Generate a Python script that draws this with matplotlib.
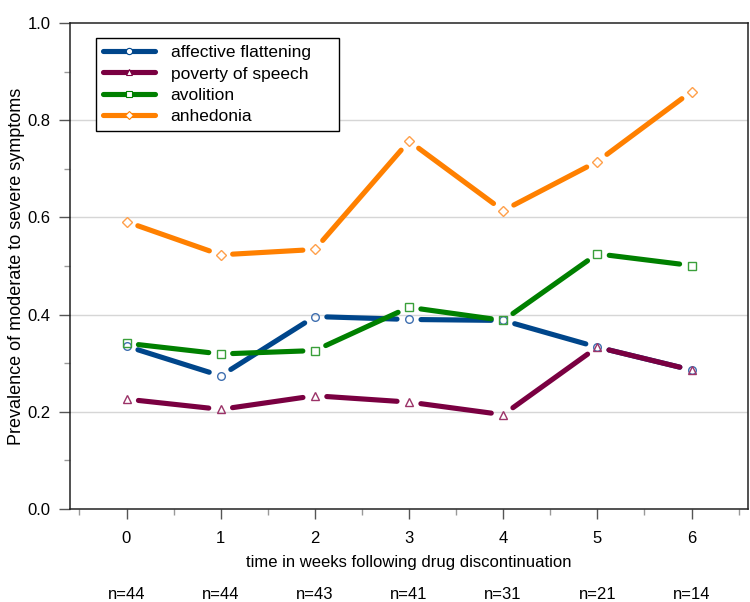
import numpy as np
import matplotlib.pyplot as plt
from matplotlib.lines import Line2D
from matplotlib.ticker import MultipleLocator
import matplotlib.transforms as mtransforms

plt.rcParams['font.family'] = ['Liberation Sans', 'DejaVu Sans']

weeks = [0, 1, 2, 3, 4, 5, 6]
n_counts = ['n=44', 'n=44', 'n=43', 'n=41', 'n=31', 'n=21', 'n=14']

affective = [0.335, 0.274, 0.396, 0.390, 0.388, 0.333, 0.286]
poverty = [0.226, 0.205, 0.233, 0.220, 0.194, 0.333, 0.286]
avolition = [0.341, 0.319, 0.326, 0.415, 0.388, 0.525, 0.501]
anhedonia = [0.591, 0.523, 0.534, 0.757, 0.614, 0.715, 0.859]

labels = ['affective flattening', 'poverty of speech', 'avolition', 'anhedonia']
series = [affective, poverty, avolition, anhedonia]
line_colors = ['#00468b', '#7a0041', '#008000', '#ff8000']
marker_colors = ['#3f6fb0', '#9b3368', '#3a9f3a', '#ffa04a']
markers = ['o', '^', 's', 'D']
marker_sizes = [5.5, 5.5, 6, 5]

fig = plt.figure(figsize=(7.5, 6.02), dpi=100)
ax = fig.add_axes([70 / 750, 1 - 509 / 602, 678 / 750, 486 / 602])
ax.set_xlim(-0.6, 6.6)
ax.set_ylim(0, 1)

# gridlines at major y ticks
for g in [0.2, 0.4, 0.6, 0.8]:
    ax.axhline(g, color='#d6d6d6', lw=1, zorder=0)

# lines with small gaps around each marker
gap = 12
for ys, lc, mc, m, ms in zip(series, line_colors, marker_colors, markers, marker_sizes):
    pts = ax.transData.transform(np.column_stack([weeks, ys]))
    inv = ax.transData.inverted()
    for p0, p1 in zip(pts[:-1], pts[1:]):
        d = p1 - p0
        u = d / np.hypot(d[0], d[1])
        seg = inv.transform(np.array([p0 + u * gap, p1 - u * gap]))
        ax.plot(seg[:, 0], seg[:, 1], color=lc, lw=3.7,
                solid_capstyle='round', zorder=3)
    ax.plot(weeks, ys, ls='none', marker=m, ms=ms, mfc='none',
            mec=mc, mew=1, zorder=4)

handles = [Line2D([], [], color=lc, lw=3.7, marker=m, ms=4.5, mfc='white',
                  mec=lc, mew=0.8, solid_capstyle='round')
           for lc, m in zip(line_colors, markers)]
leg = ax.legend(handles, labels, loc='upper left',
                bbox_to_anchor=(26 / 678, 1 - 15 / 486, 243 / 678, 0),
                mode='expand', borderaxespad=0, fontsize=12.5, handlelength=3.0,
                handletextpad=0.9, labelspacing=0.36, borderpad=0.4,
                fancybox=False, edgecolor='black', framealpha=1, numpoints=1)
leg.get_frame().set_linewidth(1.0)
leg.set_zorder(5)

ax.set_xticks(weeks)
ax.xaxis.set_minor_locator(MultipleLocator(0.5))
ax.yaxis.set_major_locator(MultipleLocator(0.2))
ax.yaxis.set_minor_locator(MultipleLocator(0.1))
ax.yaxis.set_major_formatter(plt.FormatStrFormatter('%.1f'))
ax.tick_params(axis='x', which='major', direction='out', length=7, width=1,
               pad=9, labelsize=12, color='#555555')
ax.tick_params(axis='x', which='minor', direction='out', length=4, width=1,
               color='#999999')
ax.tick_params(axis='y', which='major', direction='out', length=8, width=1,
               pad=6, labelsize=12, color='#555555')
ax.tick_params(axis='y', which='minor', direction='out', length=4, width=1,
               color='#999999')
for s in ax.spines.values():
    s.set_linewidth(1.1)
    s.set_color('#222222')

ax.set_xlabel('time in weeks following drug discontinuation', fontsize=12, labelpad=6)
ax.set_ylabel('Prevalence of moderate to severe symptoms', fontsize=13, labelpad=1.5)

trans = mtransforms.blended_transform_factory(ax.transData, ax.transAxes)
for w, n in zip(weeks, n_counts):
    ax.text(w, -0.175, n, transform=trans, ha='center', va='center', fontsize=12)

fig.savefig('out.png', dpi=100)
